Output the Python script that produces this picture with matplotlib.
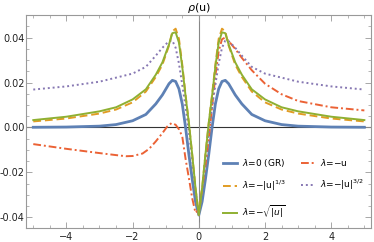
import matplotlib
import matplotlib.pyplot as plt
from matplotlib.ticker import MultipleLocator

matplotlib.use("Agg")

# values
u = [-5, -4, -3, -2.5, -2, -1.6, -1.3, -1.1, -0.9, -0.8, -0.7, -0.6, -0.5, -0.4,
     -0.3, -0.2, -0.1, 0, 0.1, 0.2, 0.3, 0.4, 0.5, 0.6, 0.7, 0.8, 0.9, 1.1, 1.3,
     1.6, 2, 2.5, 3, 4, 5]

rho_gr = [0.0001, 0.0002, 0.0006, 0.0013, 0.0030, 0.0058, 0.0105, 0.0145, 0.0195,
          0.0210, 0.0205, 0.0172, 0.0105, 0.0000, -0.0120, -0.0230, -0.0330, -0.0390,
          -0.0330, -0.0230, -0.0120, 0.0000, 0.0105, 0.0172, 0.0205, 0.0210, 0.0195,
          0.0145, 0.0105, 0.0058, 0.0030, 0.0013, 0.0006, 0.0002, 0.0001]

rho_cbrt = [0.0027, 0.0040, 0.0062, 0.0080, 0.0112, 0.0160, 0.0225, 0.0280, 0.0365,
            0.0428, 0.0440, 0.0395, 0.0280, 0.0145, 0.0020, -0.0120, -0.0270, -0.0390,
            -0.0270, -0.0120, 0.0020, 0.0145, 0.0280, 0.0395, 0.0440, 0.0428, 0.0365,
            0.0280, 0.0225, 0.0160, 0.0112, 0.0080, 0.0062, 0.0040, 0.0027]

rho_sqrt = [0.0033, 0.0048, 0.0072, 0.0090, 0.0125, 0.0170, 0.0235, 0.0290, 0.0370,
            0.0420, 0.0424, 0.0378, 0.0270, 0.0140, 0.0020, -0.0120, -0.0270, -0.0390,
            -0.0270, -0.0120, 0.0020, 0.0140, 0.0270, 0.0378, 0.0424, 0.0420, 0.0370,
            0.0290, 0.0235, 0.0170, 0.0125, 0.0090, 0.0072, 0.0048, 0.0033]

rho_32 = [0.0169, 0.0183, 0.0204, 0.0222, 0.0240, 0.0270, 0.0320, 0.0355, 0.0385,
          0.0387, 0.0355, 0.0285, 0.0190, 0.0090, -0.0020, -0.0140, -0.0280, -0.0390,
          -0.0280, -0.0140, -0.0020, 0.0090, 0.0190, 0.0285, 0.0355, 0.0387, 0.0385,
          0.0355, 0.0320, 0.0270, 0.0240, 0.0222, 0.0204, 0.0183, 0.0169]

u_lin = [-5, -4, -3, -2.5, -2.2, -2, -1.7, -1.5, -1.3, -1.1, -0.95, -0.82, -0.7,
         -0.6, -0.5, -0.4, -0.3, -0.2, -0.1, 0, 0.1, 0.2, 0.3, 0.4, 0.5, 0.6, 0.7,
         0.8, 0.9, 1.1, 1.3, 1.6, 2, 2.5, 3, 4, 5]
rho_lin = [-0.0074, -0.0095, -0.0114, -0.0123, -0.0128, -0.0127, -0.0116, -0.0095,
           -0.0062, -0.0025, 0.0005, 0.0020, 0.0012, -0.0008, -0.0040, -0.0140,
           -0.0225, -0.0315, -0.0380, -0.0365, -0.0275, -0.0170, -0.0050, 0.0090,
           0.0230, 0.0340, 0.0393, 0.0401, 0.0385, 0.0350, 0.0310, 0.0255, 0.0195,
           0.0148, 0.0118, 0.0090, 0.0076]

fig = plt.figure(figsize=(3.74, 2.42), dpi=100)
ax = fig.add_axes([0.0695, 0.0566, 0.9233, 0.8814])

ax.axhline(0, color="#333333", lw=0.8, zorder=1)
ax.axvline(0, color="#888888", lw=0.8, zorder=1)

l1, = ax.plot(u, rho_gr, color="#5E81B5", lw=2.0, label=r"$\lambda$=0 (GR)")
l2, = ax.plot(u_lin, rho_lin, color="#EB6235", lw=1.4, ls=(0, (4, 1.5, 1, 1.5)),
              label=r"$\lambda$=$-$u")
l3, = ax.plot(u, rho_cbrt, color="#E19C24", lw=1.4, ls=(0, (4, 2)),
              label=r"$\lambda$=$-$|u|$^{1/3}$")
l4, = ax.plot(u, rho_32, color="#8778B3", lw=1.4, ls=(0, (1, 1.5)),
              label=r"$\lambda$=$-$|u|$^{3/2}$")
l5, = ax.plot(u, rho_sqrt, color="#8FB032", lw=1.4,
              label=r"$\lambda$=$-\sqrt{|u|}$")

ax.set_xlim(-5.22, 5.21)
ax.set_ylim(-0.0449, 0.0501)
ax.set_xticks([-4, -2, 0, 2, 4])
ax.set_yticks([-0.04, -0.02, 0.0, 0.02, 0.04])
ax.set_xticklabels(["\u22124", "\u22122", "0", "2", "4"])
ax.set_yticklabels(["-0.04", "-0.02", "0.00", "0.02", "0.04"])
ax.xaxis.set_minor_locator(MultipleLocator(0.5))
ax.yaxis.set_minor_locator(MultipleLocator(0.005))
ax.tick_params(which="both", direction="in", top=True, right=True,
               color="#999999", labelsize=7, labelcolor="#222222")
ax.tick_params(axis="y", pad=1.0)
ax.tick_params(axis="x", pad=2.5)
ax.tick_params(which="major", length=4, width=0.6)
ax.tick_params(which="minor", length=2, width=0.5)
for s in ax.spines.values():
    s.set_color("#999999")
    s.set_linewidth(0.8)

fig.text(0.532, 0.965, r"$\rho$(u)", ha="center", va="center", fontsize=8)

ax.legend(handles=[l1, l3, l5, l2, l4], ncol=2, frameon=False, fontsize=6.5,
          loc="upper left", bbox_to_anchor=(0.571, 0.335), borderaxespad=0,
          borderpad=0, handlelength=1.5, columnspacing=1.6, labelspacing=1.1,
          handletextpad=0.6)

fig.savefig("out.png", dpi=100)
